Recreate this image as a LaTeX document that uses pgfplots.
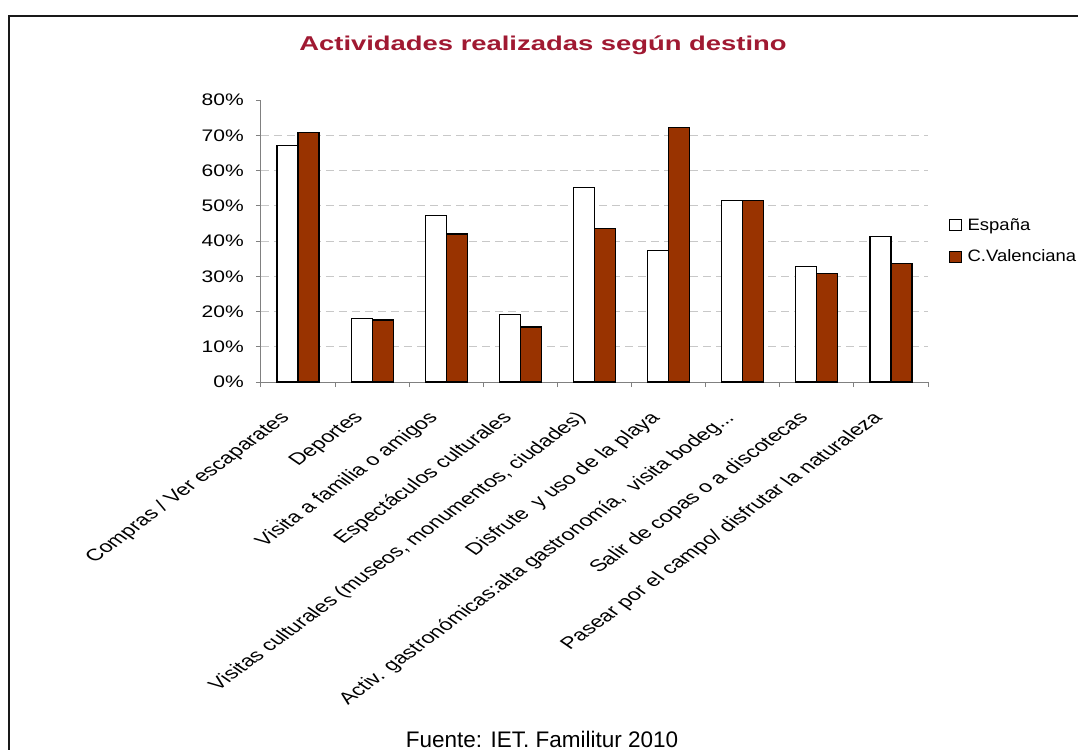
\documentclass[border=0pt]{standalone}
\usepackage{fontspec}
\setmainfont{Liberation Sans}
\usepackage{pgfplots}
\pgfplotsset{compat=1.18}
\definecolor{cv}{RGB}{153,51,0}
\definecolor{titlered}{RGB}{160,25,50}
\definecolor{gridc}{RGB}{200,200,200}
\definecolor{axc}{RGB}{128,128,128}
\pgfplotsset{sqlegend/.style={legend image code/.code={\draw[##1, line width=1.2pt] (0pt,-5.5pt) rectangle (11.5pt,5.5pt); \path (15pt,0pt);}}}
\begin{document}
\begin{tikzpicture}
\path[use as bounding box] (-261pt,382pt) rectangle (817pt,-367pt);
\draw[line width=2pt, black!90] (-252pt,-390pt) -- (-252pt,366pt) -- (900pt,366pt);
\node[font=\fontsize{20}{24}\selectfont\bfseries, text=titlered, xscale=1.37] at (282pt,337pt) {Actividades realizadas según destino};
\node[font=\fontsize{22.5}{27}\selectfont, anchor=base] at (281pt,-365pt) {Fuente: IET. Familitur 2010};
\begin{axis}[
  at={(0pt,0pt)}, anchor=south west,
  scale only axis, width=667pt, height=282pt,
  ymin=0, ymax=80, xmin=-0.5, xmax=8.5,
  ybar=0pt, bar width=21pt,
  axis x line=bottom, axis y line=left,
  axis line style={-, draw=axc, line width=1pt},
  tick align=outside, major tick length=5pt,
  tick style={draw=axc, line width=1pt},
  ytick={0,10,...,80},
  yticklabels={0\%,10\%,20\%,30\%,40\%,50\%,60\%,70\%,80\%},
  yticklabel style={font=\fontsize{16.7}{20}\selectfont, anchor=east, inner sep=0pt, xshift=-12pt, xscale=1.26},
  extra y ticks={10,20,...,70},
  extra y tick labels={},
  extra y tick style={grid=major, major tick length=0pt, major grid style={dash pattern=on 8pt off 5pt, draw=gridc, line width=1pt}},
  xtick={-0.5,0.5,...,8.5},
  xticklabels={},
  extra x ticks={0,1,...,8},
  extra x tick labels={Compras / Ver escaparates, Deportes, Visita a familia o amigos, Espectáculos culturales, {Visitas culturales (museos, monumentos, ciudades)}, Disfrute \ y uso de la playa, {Activ. gastronómicas:alta gastronomía, \ visita bodeg{.}{.}{.}}, Salir de copas o a discotecas, Pasear por el campo/ disfrutar la naturaleza},
  extra x tick style={major tick length=0pt},
  xticklabel style={font=\fontsize{16.6}{18}\selectfont, anchor=north east, inner sep=0pt, xshift=-20pt, yshift=-28pt, xscale=1.4, rotate=46},
  legend style={at={(1.0315,0.587)}, anchor=north west, draw=none, fill=none, font=\fontsize{16.5}{20}\selectfont, row sep=14pt, inner sep=0pt, nodes={xscale=1.12}},
  legend cell align=left,
]
\addplot[fill=white, draw=black, line width=1.2pt, sqlegend] coordinates {(0,67.1) (1,18.0) (2,47.2) (3,19.2) (4,55.1) (5,37.2) (6,51.5) (7,32.8) (8,41.2)};
\addlegendentry{España}
\addplot[fill=cv, draw=black, line width=1.2pt, sqlegend] coordinates {(0,70.7) (1,17.6) (2,42.0) (3,15.6) (4,43.6) (5,72.3) (6,51.5) (7,30.7) (8,33.6)};
\addlegendentry{C.Valenciana}
\end{axis}
\end{tikzpicture}
\end{document}
